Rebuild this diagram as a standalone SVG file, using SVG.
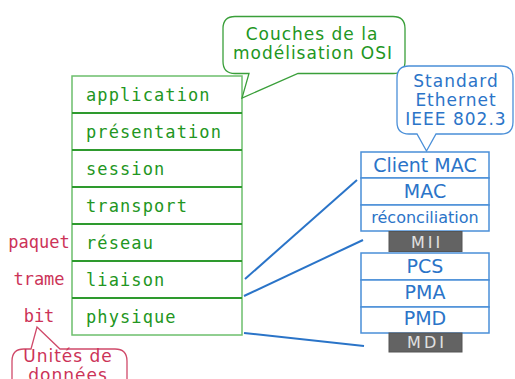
<svg xmlns="http://www.w3.org/2000/svg" width="515" height="379" viewBox="0 0 515 379">
<style>
.osi{fill:#fff;stroke:#6cbf6c;stroke-width:1.5}
.div{stroke:#2e9a2e;stroke-width:2}
.osit{font-family:"DejaVu Sans Mono",monospace;font-size:17px;letter-spacing:1.1px;fill:#229622}
.gb{fill:#fff;stroke:#3a9f3a;stroke-width:1.3}
.gbt{font-family:"DejaVu Sans",sans-serif;font-size:17px;letter-spacing:1px;fill:#229622;text-anchor:middle}
.bb{fill:#fff;stroke:#4a8fd8;stroke-width:1.3}
.bbt{font-family:"DejaVu Sans",sans-serif;font-size:17px;letter-spacing:1px;fill:#2b74c8;text-anchor:middle}
.eth{fill:#fff;stroke:#4a8fd8;stroke-width:1.5}
.etht{font-family:"DejaVu Sans",sans-serif;font-size:19px;fill:#2b74c8;text-anchor:middle}
.dark{fill:#636363;stroke:#555;stroke-width:1}
.darkt{font-family:"DejaVu Sans",sans-serif;font-size:16px;letter-spacing:3px;fill:#e0e0e0;text-anchor:middle}
.rt{font-family:"DejaVu Sans Mono",monospace;font-size:17px;fill:#cc3358;text-anchor:middle}
.rb{fill:#fff;stroke:#d04a6a;stroke-width:1.3}
.rbt{font-family:"DejaVu Sans",sans-serif;font-size:17px;letter-spacing:1px;fill:#cc3358;text-anchor:middle}
.conn{stroke:#2a74c8;stroke-width:2;fill:none}
</style>
<g id="osi-stack">
<rect class="osi" x="72" y="76" width="170" height="259"/>
<line class="div" x1="72" y1="113" x2="242" y2="113"/>
<line class="div" x1="72" y1="150" x2="242" y2="150"/>
<line class="div" x1="72" y1="187" x2="242" y2="187"/>
<line class="div" x1="72" y1="224" x2="242" y2="224"/>
<line class="div" x1="72" y1="261" x2="242" y2="261"/>
<line class="div" x1="72" y1="298" x2="242" y2="298"/>
<text class="osit" x="86" y="101">application</text>
<text class="osit" x="86" y="138">présentation</text>
<text class="osit" x="86" y="175">session</text>
<text class="osit" x="86" y="212">transport</text>
<text class="osit" x="86" y="249">réseau</text>
<text class="osit" x="86" y="286">liaison</text>
<text class="osit" x="86" y="323">physique</text>
</g>
<g id="osi-bubble">
<path class="gb" d="M235 16.5 H393 Q405 16.5 405 28.5 V61.5 Q405 73.5 393 73.5 H298 L242 98 L249 73.5 H235 Q223 73.5 223 61.5 V28.5 Q223 16.5 235 16.5 Z"/>
<text class="gbt" x="312" y="40">Couches de la</text>
<text class="gbt" x="313" y="59">modélisation OSI</text>
</g>
<g id="ethernet-bubble">
<path class="bb" d="M409 66 H501 Q513 66 513 78 V122 Q513 134 501 134 H436 L426.5 151 L417 134 H409 Q397 134 397 122 V78 Q397 66 409 66 Z"/>
<text class="bbt" x="456" y="87">Standard</text>
<text class="bbt" x="456" y="106">Ethernet</text>
<text class="bbt" x="456" y="125">IEEE 802.3</text>
</g>
<g id="ethernet-mac">
<rect class="eth" x="361" y="152" width="128" height="26"/>
<rect class="eth" x="361" y="178" width="128" height="27"/>
<rect class="eth" x="361" y="205" width="128" height="26"/>
<text class="etht" x="425" y="172">Client MAC</text>
<text class="etht" x="425" y="198">MAC</text>
<text class="etht" x="425" y="223" style="font-size:16px">réconciliation</text>
</g>
<g id="mii">
<rect class="dark" x="389" y="231.5" width="73" height="20"/>
<text class="darkt" x="427" y="248">MII</text>
</g>
<g id="ethernet-phy">
<rect class="eth" x="361" y="253" width="128" height="27"/>
<rect class="eth" x="361" y="280" width="128" height="27"/>
<rect class="eth" x="361" y="307" width="128" height="26"/>
<text class="etht" x="425" y="273">PCS</text>
<text class="etht" x="425" y="299">PMA</text>
<text class="etht" x="425" y="325">PMD</text>
</g>
<g id="mdi">
<rect class="dark" x="389" y="333" width="73" height="19"/>
<text class="darkt" x="427" y="348">MDI</text>
</g>
<g id="units">
<text class="rt" x="39" y="248">paquet</text>
<text class="rt" x="39" y="285">trame</text>
<text class="rt" x="39" y="322">bit</text>
</g>
<g id="units-bubble">
<path class="rb" d="M24 349 H31 L37 327 L60 349 H115 Q127 349 127 361 V400 H12 V361 Q12 349 24 349 Z"/>
<text class="rbt" x="68" y="362">Unités de</text>
<text class="rbt" x="68" y="381">données</text>
</g>
<g id="connectors">
<line class="conn" x1="245" y1="279" x2="357" y2="180"/>
<line class="conn" x1="244" y1="296" x2="363" y2="240"/>
<line class="conn" x1="244" y1="333" x2="364" y2="346"/>
</g>
</svg>
